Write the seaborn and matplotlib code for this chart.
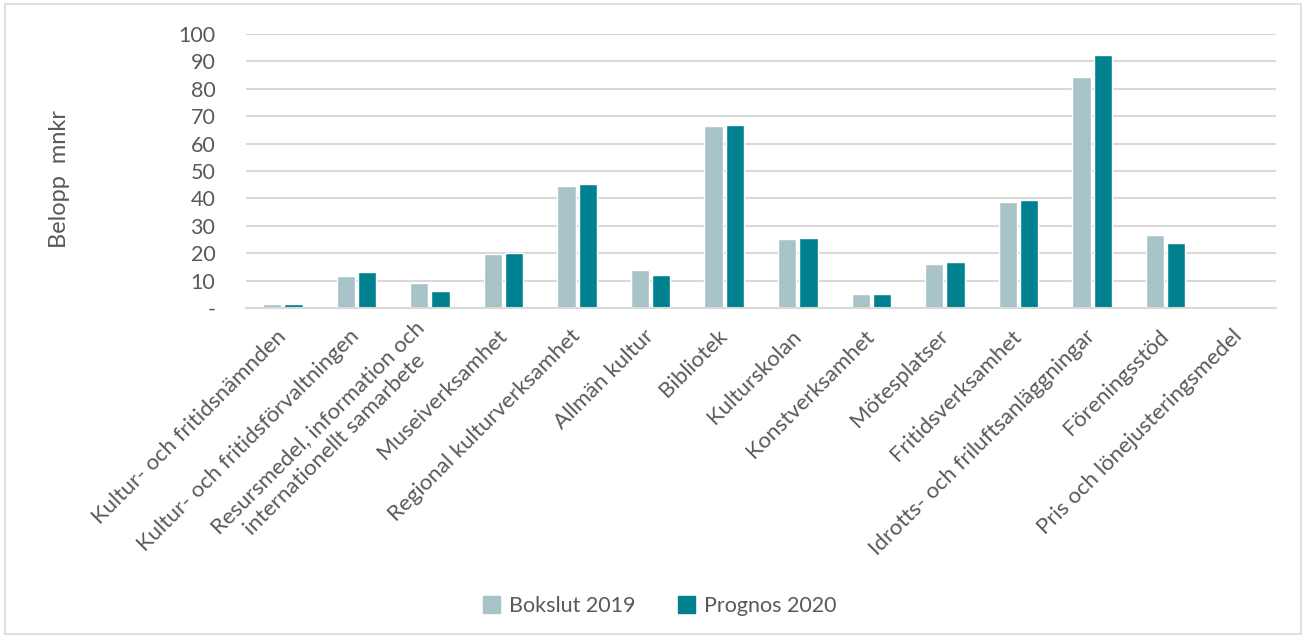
import numpy as np
import pandas as pd
import matplotlib
matplotlib.use("Agg")
import matplotlib.pyplot as plt
import seaborn as sns
from matplotlib.patches import Rectangle

sns.set_style("white")
plt.rcParams['font.family'] = ['Lato', 'DejaVu Sans']

categories = [
    "Kultur- och fritidsnämnden",
    "Kultur- och fritidsförvaltningen",
    "Resursmedel, information och\ninternationellt samarbete",
    "Museiverksamhet",
    "Regional kulturverksamhet",
    "Allmän kultur",
    "Bibliotek",
    "Kulturskolan",
    "Konstverksamhet",
    "Mötesplatser",
    "Fritidsverksamhet",
    "Idrotts- och friluftsanläggningar",
    "Föreningsstöd",
    "Pris och lönejusteringsmedel",
]
bokslut_2019 = [1.3, 11.6, 9.0, 19.7, 44.6, 14.0, 66.5, 25.3, 5.2, 16.1, 38.8, 84.4, 26.8, 0]
prognos_2020 = [1.3, 13.0, 6.3, 20.2, 45.4, 12.2, 66.9, 25.7, 5.2, 16.9, 39.5, 92.5, 23.8, 0]
series = ["Bokslut 2019", "Prognos 2020"]
yticks = [0, 10, 20, 30, 40, 50, 60, 70, 80, 90, 100]
ytick_labels = ["-"] + [str(v) for v in yticks[1:]]

df = pd.DataFrame({
    "kategori": categories * 2,
    "serie": [series[0]] * len(categories) + [series[1]] * len(categories),
    "belopp": bokslut_2019 + prognos_2020,
})

grey = "#595959"
fig = plt.figure(figsize=(13.06, 6.37), dpi=100)
ax = fig.add_axes([246 / 1306, 1 - 308 / 637, 1030 / 1306, 274 / 637])

sns.barplot(data=df, x="kategori", y="belopp", hue="serie", ax=ax,
            palette=["#A8C3C8", "#00818F"], width=0.58, gap=0.14,
            saturation=1, legend=True)

ax.set_ylim(0, 100)
ax.set_xlim(-0.5, len(categories) - 0.5)
ax.set_yticks(yticks)
ax.set_yticklabels(ytick_labels)
ax.yaxis.grid(True, color="#D9D9D9", linewidth=1.5)
ax.set_axisbelow(True)
for s in ["top", "right", "left"]:
    ax.spines[s].set_visible(False)
ax.spines["bottom"].set_color("#D9D9D9")
ax.spines["bottom"].set_linewidth(1.5)
ax.tick_params(axis="y", length=0, pad=22, labelsize=15.5, labelcolor=grey)
ax.tick_params(axis="x", length=0, pad=18, labelsize=16, labelcolor=grey)
for lbl in ax.get_xticklabels():
    lbl.set_rotation(45)
    lbl.set_ha("right")
    lbl.set_va("center")
    lbl.set_rotation_mode("anchor")
    lbl.set_multialignment("center")
    lbl.set_linespacing(1.25)

ax.set_xlabel("")
ax.set_ylabel("Belopp  mnkr", fontsize=17, color=grey)
ax.yaxis.set_label_coords(-0.171, 0.47)

ax.get_legend().remove()
handles = [Rectangle((0, 0), 1, 1, color=c) for c in ["#A8C3C8", "#00818F"]]
fig.legend(handles, series, loc="center", bbox_to_anchor=(0.505, 0.049),
           ncol=2, frameon=False, fontsize=15.5, labelcolor=grey,
           handlelength=0.8, handleheight=0.8, handletextpad=0.4, columnspacing=2.0)

fig.patches.append(Rectangle((5 / 1306, 0.004), 1296 / 1306, 0.99, transform=fig.transFigure,
                             fill=False, edgecolor="#D9D9D9", linewidth=1.2))

fig.savefig("out.png", dpi=100)
